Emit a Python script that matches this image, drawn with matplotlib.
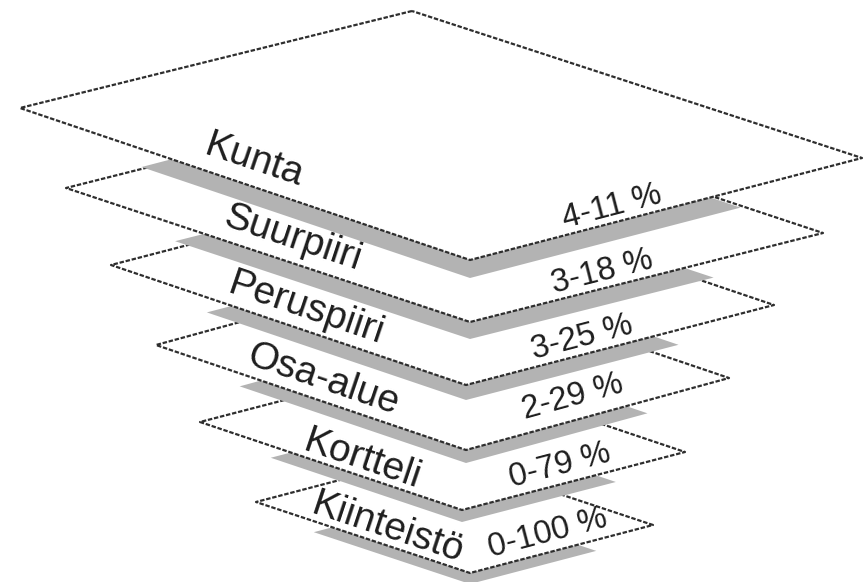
import matplotlib
matplotlib.use("Agg")
import matplotlib.pyplot as plt
from matplotlib.patches import Polygon
import numpy as np

# ---- data ----
levels = ["Kunta", "Suurpiiri", "Peruspiiri", "Osa-alue", "Kortteli", "Kiinteistö"]
ranges = ["4-11 %", "3-18 %", "3-25 %", "2-29 %", "0-79 %", "0-100 %"]

# ---- layout (pixel coordinates of the layer corners: left, bottom, right) ----
left_pts = [(20, 108), (66, 188), (111, 265), (156, 345), (200, 422), (256, 502)]
bottom_pts = [(470, 260), (470, 322), (466, 385), (466, 450), (462, 510), (470, 573)]
right_pts = [(862, 158), (823, 233), (774, 305), (729, 378), (685, 452), (653, 525)]
top_kunta = (412, 11)
shadow_dy = [18, 17, 15, 13, 12, 11]
label_pos = [(254, 161), (293, 238), (306, 309), (323, 380), (362, 460), (388, 528)]
range_pos = [(612, 207), (602, 272), (582, 338), (573, 397), (560, 466), (548, 533)]

fig = plt.figure(figsize=(8.65, 5.82), dpi=100)
ax = fig.add_axes([0, 0, 1, 1])
ax.set_xlim(0, 865)
ax.set_ylim(582, 0)
ax.axis("off")

edge_col = "#2e2e2e"
shadow_col = "#b3b3b3"
a_frac, b_frac = 0.73, 0.69

n = len(levels)
for i in reversed(range(n)):
    L = np.array(left_pts[i], float)
    B = np.array(bottom_pts[i], float)
    R = np.array(right_pts[i], float)
    T = L + R - B
    if i == 0:
        T = np.array(top_kunta, float)
    # shadow
    Bs = B + np.array([0, shadow_dy[i]])
    Ls = Bs + a_frac * (L - B)
    Rs = Bs + b_frac * (R - B)
    Ts = Ls + Rs - Bs
    ax.add_patch(Polygon([Ts, Ls, Bs, Rs], closed=True, facecolor=shadow_col,
                         edgecolor="none", zorder=2 * (n - i)))
    # layer
    ax.add_patch(Polygon([T, L, B, R], closed=True, facecolor="white",
                         edgecolor=edge_col, lw=1.6, linestyle=(0, (2.0, 0.8)),
                         joinstyle="round", zorder=2 * (n - i) + 1))
    # texts
    ang_l = -np.degrees(np.arctan2(B[1] - L[1], B[0] - L[0]))
    ang_r = -np.degrees(np.arctan2(R[1] - B[1], R[0] - B[0]))
    ax.text(*label_pos[i], levels[i], rotation=ang_l, rotation_mode="anchor",
            ha="center", va="center", fontsize=28, family="Liberation Sans",
            color="#1e1e1e", zorder=30)
    ax.text(*range_pos[i], ranges[i], rotation=ang_r, rotation_mode="anchor",
            ha="center", va="center", fontsize=23.5, family="Liberation Sans",
            color="#1e1e1e", zorder=30)

fig.savefig("out.png", dpi=100)
